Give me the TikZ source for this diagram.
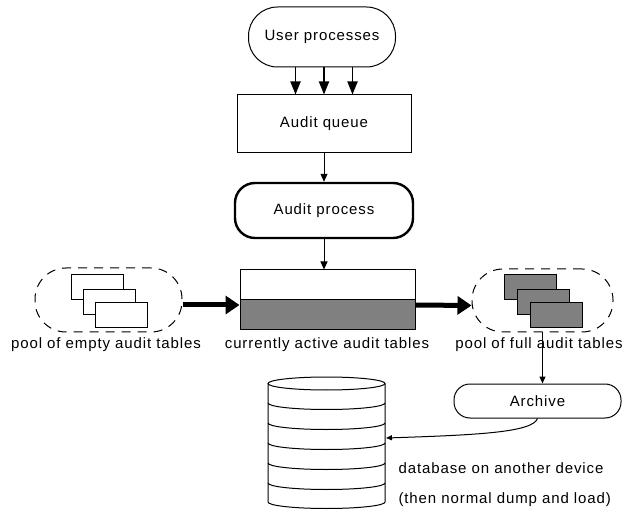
\documentclass[tikz,border=0pt]{standalone}
\usepackage{fontspec}
\setmainfont{Liberation Sans}[LetterSpace=6]
\usetikzlibrary{arrows.meta}

\begin{document}
\begin{tikzpicture}[x=1pt,y=-1pt,
  font=\fontsize{15}{18}\selectfont,
  box/.style={draw,line width=1pt,inner sep=0pt},
  thinarrow/.style={-{Triangle[width=7pt,length=8pt]},line width=1pt},
  userarrow/.style={-{Triangle[width=10pt,length=13pt]},line width=1.8pt},
  fatarrow/.style={-{Triangle[width=18pt,length=14pt]},line width=5pt},
  pool/.style={draw,dash pattern=on 9pt off 7pt,line width=1pt,rounded corners=31pt,minimum width=147pt,minimum height=64pt},
  tbl/.style={draw,fill=white,line width=1pt,minimum width=52pt,minimum height=25pt,inner sep=0pt},
  fulltbl/.style={tbl,fill=black!50}]
\useasboundingbox (0,0) rectangle (627,513);

\node[box,rounded corners=29pt,minimum width=147pt,minimum height=60pt] (user) at (322,37) {User processes};
\node[box,minimum width=174pt,minimum height=58pt] (queue) at (324,124) {Audit queue};
\node[box,line width=2.4pt,rounded corners=20pt,minimum width=178pt,minimum height=55pt] (audit) at (324,210.5) {Audit process};
\node[box,minimum width=175pt,minimum height=60pt,
  path picture={\fill[black!50] (path picture bounding box.west) rectangle (path picture bounding box.south east);
    \draw[line width=1pt] (path picture bounding box.west) -- (path picture bounding box.east);}] (active) at (327.5,300) {};

\foreach \dx in {-28.5,0,28.5}
  \draw[userarrow] ([xshift=\dx pt]queue.north |- user.south) -- ([xshift=\dx pt]queue.north);
\draw[thinarrow] (queue.south) -- (audit.north);
\draw[thinarrow] (audit.south) -- (audit.south |- active.north);

% pools of tables
\node[pool,minimum width=147pt] (emptypool) at (108.5,300) {};
\node[tbl] (e1) at (97.5,287.5) {};
\node[tbl] (e2) at (109,302.5) {};
\node[tbl] (e3) at (121.5,315) {};
\node[pool,minimum width=141pt,minimum height=63pt] (fullpool) at (542.5,300.5) {};
\node[fulltbl] (f1) at (530.5,287.5) {};
\node[fulltbl] (f2) at (543,302.5) {};
\node[fulltbl] (f3) at (556,315) {};

\draw[fatarrow] ([yshift=-5pt]emptypool.east) -- ([yshift=-5pt]active.west);
\draw[fatarrow] ([yshift=-5pt]active.east) -- ([yshift=-5pt]fullpool.west);

\node (emptylbl) at (106,345) {pool of empty audit tables};
\node (activelbl) at (327,345) {currently active audit tables};
\node (fulllbl) at (539,345) {pool of full audit tables};

\node[box,rounded corners=16pt,minimum width=167pt,minimum height=34pt] (archive) at (537.5,401) {Archive};
\draw[thinarrow,-{Triangle[width=6pt,length=7pt]}] (fullpool.south) -- (fullpool.south |- archive.north);

% database
\draw[line width=1pt] (326.5,383.5) ellipse [x radius=58.5,y radius=6.5];
\draw[line width=1pt] (268,383.5) -- (268,502) arc[start angle=180,end angle=0,x radius=58.5,y radius=6.5] -- (385,383.5);
\foreach \y in {403,423,443,463,483}
  \draw[line width=1pt] (268,\y) arc[start angle=180,end angle=0,x radius=58.5,y radius=6.5];
\coordinate (dbin) at (386,438);
\draw[line width=1pt,-{Triangle[width=5pt,length=6pt]}] (archive.south) .. controls +(-5,14) and +(90,-3) .. (dbin);

\node[anchor=west,align=left] (dblbl) at (395,485) {database on another device\\[12pt](then normal dump and load)};
\end{tikzpicture}
\end{document}
